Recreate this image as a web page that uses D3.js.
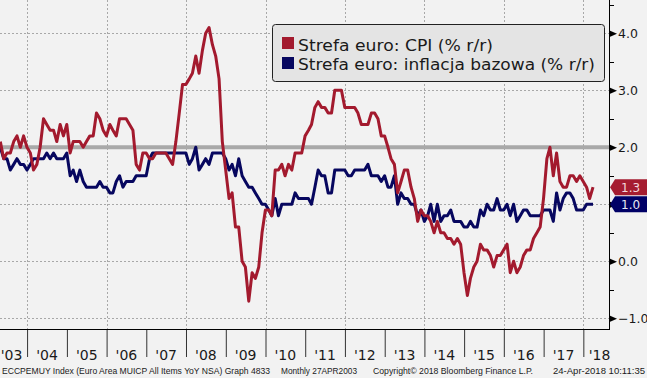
<!DOCTYPE html>
<html><head><meta charset="utf-8">
<script src="https://cdn.jsdelivr.net/npm/d3@7"></script>
<style>html,body{margin:0;padding:0;background:#f2f2f2;}svg{display:block;}</style>
</head><body>
<svg id="c" width="647" height="378"></svg>
<script>
// ---- data (monthly, Apr 2003 .. Mar 2018) ----
const firstMonth = "2003-04";
const cpi = [
  2.1,1.8,1.9,1.9,2.1,2.2,2.0,2.2,2.0,
  1.9,1.6,1.7,2.0,2.5,2.4,2.3,2.3,2.1,2.4,2.2,2.4,
  1.9,2.1,2.1,2.1,2.0,2.1,2.2,2.2,2.6,2.5,2.3,2.2,
  2.4,2.3,2.2,2.5,2.5,2.5,2.4,2.3,1.7,1.6,1.9,1.9,
  1.8,1.8,1.9,1.9,1.9,1.9,1.8,1.7,2.1,2.6,3.1,3.1,
  3.2,3.3,3.6,3.3,3.7,4.0,4.1,3.8,3.6,3.2,2.1,1.6,
  1.1,1.2,0.6,0.6,0.0,-0.1,-0.7,-0.2,-0.3,-0.1,0.5,0.9,
  0.9,0.8,1.6,1.6,1.7,1.5,1.7,1.6,1.9,1.9,1.9,2.2,
  2.3,2.4,2.7,2.8,2.7,2.7,2.6,2.6,3.0,3.0,3.0,2.7,
  2.7,2.7,2.7,2.6,2.4,2.4,2.4,2.6,2.6,2.5,2.2,2.2,
  2.0,1.8,1.7,1.2,1.4,1.6,1.6,1.3,1.1,0.7,0.9,0.8,
  0.8,0.7,0.5,0.7,0.5,0.5,0.4,0.4,0.3,0.4,0.3,-0.2,
  -0.6,-0.3,-0.1,0.0,0.3,0.2,0.2,0.1,-0.1,0.1,0.1,0.2,
  0.3,-0.2,0.0,-0.2,-0.1,0.1,0.2,0.2,0.4,0.5,0.6,1.1,
  1.8,2.0,1.5,1.9,1.4,1.3,1.3,1.5,1.5,1.4,1.5,1.4,
  1.3,1.1,1.3
];
const core = [
  2.0,1.8,1.8,1.6,1.7,1.8,1.7,1.7,1.6,
  1.7,1.8,1.8,1.8,1.8,1.9,1.8,1.9,1.8,1.8,1.8,1.9,
  1.5,1.6,1.4,1.6,1.4,1.3,1.3,1.3,1.3,1.4,1.3,1.3,
  1.2,1.2,1.4,1.5,1.3,1.4,1.4,1.4,1.5,1.5,1.5,1.5,
  1.8,1.9,1.9,1.9,1.9,1.9,1.9,1.9,1.9,1.9,1.9,1.9,
  1.7,1.8,2.0,1.6,1.7,1.8,1.7,1.9,1.9,1.9,1.9,1.8,
  1.6,1.7,1.5,1.8,1.5,1.4,1.3,1.3,1.2,1.1,1.0,1.0,
  0.9,0.8,1.1,0.8,1.0,1.0,1.0,1.0,1.2,1.1,1.1,1.1,
  1.1,1.0,1.3,1.6,1.5,1.5,1.2,1.2,1.6,1.6,1.6,1.6,
  1.5,1.5,1.6,1.6,1.6,1.6,1.7,1.5,1.5,1.5,1.4,1.5,
  1.3,1.3,1.5,1.0,1.2,1.1,1.1,1.0,1.0,0.8,0.9,0.7,
  0.8,1.0,0.7,1.0,0.7,0.8,0.8,0.9,0.7,0.7,0.7,0.6,
  0.6,0.7,0.6,0.6,0.9,0.8,1.0,0.9,0.9,1.1,0.9,0.9,
  1.0,0.8,1.0,0.7,0.8,0.9,0.9,0.8,0.8,0.8,0.8,0.9,
  0.9,0.9,0.7,1.2,0.9,1.1,1.2,1.2,1.1,0.9,0.9,0.9,
  1.0,1.0,1.0
];
const seriesNames = ["Strefa euro: CPI (% r/r)", "Strefa euro: inflacja bazowa (% r/r)"];
const seriesColors = ["#a31a2e", "#07075f"];
const yearLabels = ["'03","'04","'05","'06","'07","'08","'09","'10","'11","'12","'13","'14","'15","'16","'17","'18"];
const yTicks = [-1, 0, 1, 2, 3, 4];
const yMinor = [-0.5, 0.5, 1.5, 2.5, 3.5, 4.5];
const refLine = 2.0;
const footerLeft = "ECCPEMUY Index (Euro Area MUICP All Items YoY NSA) Graph 4833";
const footerMid = "Monthly 27APR2003";
const footerCopy = "Copyright\u00A9 2018 Bloomberg Finance L.P.";
const footerDate = "24-Apr-2018 10:11:35";

// ---- layout ----
const svg = d3.select("#c");
const PL = 0, PR = 609, PT = 0, PB = 329;
const FONT = "'DejaVu Sans', Verdana, sans-serif";
const FONT2 = "'Liberation Sans', Arial, sans-serif";

const parseM = d3.timeParse("%Y-%m");
const start = parseM(firstMonth);
const dates = cpi.map((_, i) => d3.timeDay.offset(d3.timeMonth.offset(start, i + 1), -1));

const x = d3.scaleTime().domain([new Date(2003, 3, 27), new Date(2018, 7, 25)]).range([PL, PR]);
const y = d3.scaleLinear().domain([-1.188, 4.584]).range([PB, PT]);

svg.append("rect").attr("width", 647).attr("height", 378).attr("fill", "#f2f2f2");

svg.append("defs").append("clipPath").attr("id", "clip")
  .append("rect").attr("x", PL).attr("y", PT).attr("width", PR - PL).attr("height", PB - PT);

// gridlines
const grid = svg.append("g").attr("stroke", "#a8a8a8").attr("stroke-width", 1).attr("stroke-dasharray", "2,2");
grid.selectAll("line.h").data(yTicks).join("line")
  .attr("x1", PL).attr("x2", PR).attr("y1", d => Math.round(y(d)) + 0.5).attr("y2", d => Math.round(y(d)) + 0.5);
const gridYears = x.ticks(d3.timeYear.every(2));
grid.selectAll("line.v").data(gridYears).join("line")
  .attr("y1", PT).attr("y2", PB).attr("x1", d => Math.round(x(d)) + 0.5).attr("x2", d => Math.round(x(d)) + 0.5);

// reference line at 2.0
svg.append("line").attr("x1", PL).attr("x2", PR).attr("y1", y(refLine)).attr("y2", y(refLine))
  .attr("stroke", "#a9a9a9").attr("stroke-width", 4);

// series lines
const line = d3.line().x((d, i) => x(dates[i])).y(d => y(d));
const lines = svg.append("g").attr("clip-path", "url(#clip)");
[[core, seriesColors[1]], [cpi, seriesColors[0]]].forEach(([s, col]) => {
  lines.append("path").datum(s).attr("d", line).attr("fill", "none")
    .attr("stroke", col).attr("stroke-width", 3).attr("stroke-linejoin", "round");
});

// bottom axis (ticks at year boundaries)
const xAxis = d3.axisBottom(x).ticks(d3.timeYear.every(1)).tickSize(28).tickSizeOuter(0).tickFormat("");
const gx = svg.append("g").attr("transform", `translate(0,${PB})`).call(xAxis);
gx.select(".domain").attr("stroke", "#000");
gx.selectAll(".tick line").attr("stroke", "#333");

// year labels centered in each year, kept inside plot width
const years = d3.range(2003, 2019);
svg.append("g").selectAll("text").data(years).join("text")
  .attr("x", yr => {
    const a = x(new Date(yr, 0, 1)), b = x(new Date(yr + 1, 0, 1));
    const hw = 9.5;
    return Math.max(PL + 2 + hw, Math.min(PR - hw, (a + b) / 2));
  })
  .attr("y", 360).attr("text-anchor", "middle")
  .attr("font-family", FONT).attr("font-size", 14).attr("fill", "#1a1a1a")
  .text((yr, i) => yearLabels[i]);

// last values (flags cover the axis label at the same level)
const lastVals = [cpi[cpi.length - 1], core[core.length - 1]];

// right axis
const yAxis = d3.axisRight(y).tickValues(yTicks).tickSize(0).tickPadding(9)
  .tickFormat(d => lastVals.some(v => Math.abs(y(v) - y(d)) < 8) ? "" : d3.format(".1f")(d));
const gy = svg.append("g").attr("transform", `translate(${PR},0)`).call(yAxis);
gy.select(".domain").attr("stroke", "#000").attr("d", `M0.5,${PT}V${PB}`);
gy.selectAll(".tick text").attr("font-family", FONT).attr("font-size", 12.5).attr("fill", "#1a1a1a")
  .attr("dy", "0.36em");
gy.selectAll(".tick").append("path").attr("d", "M0,-3.5L8,0L0,3.5Z").attr("fill", "#000");
gy.selectAll("line.minor").data(yMinor).join("line").attr("class", "minor")
  .attr("x1", 0).attr("x2", 5).attr("y1", d => Math.round(y(d)) + 0.5).attr("y2", d => Math.round(y(d)) + 0.5)
  .attr("stroke", "#000");
svg.append("line").attr("x1", PL).attr("x2", PR + 1).attr("y1", PB + 0.5).attr("y2", PB + 0.5).attr("stroke", "#000");

// last value flags
const flagH = 16;
const flags = svg.append("g");
lastVals.forEach((v, k) => {
  let cy = y(v);
  if (k === 1) cy = Math.max(cy, y(lastVals[0]) + flagH);
  const x0 = PR + 1, x1 = PR + 6, x2 = 647;
  flags.append("path")
    .attr("d", `M${x0},${cy}L${x1},${cy - flagH / 2}L${x2},${cy - flagH / 2}L${x2},${cy + flagH / 2}L${x1},${cy + flagH / 2}Z`)
    .attr("fill", k === 0 ? "#a51c30" : "#000066");
  flags.append("text").attr("x", 621).attr("y", cy).attr("dy", "0.36em")
    .attr("font-family", FONT).attr("font-size", 12).attr("fill", k === 0 ? "#f4d6da" : "#e6e6f4")
    .text(d3.format(".1f")(v));
});

// legend
const lg = svg.append("g");
lg.append("rect").attr("x", 272.5).attr("y", 24.5).attr("width", 332).attr("height", 57).attr("rx", 3)
  .attr("fill", "#e4e4e4").attr("stroke", "#222").attr("stroke-width", 1);
const legW = [195, 297];
seriesNames.forEach((n, k) => {
  lg.append("rect").attr("x", 282).attr("y", 37 + k * 20).attr("width", 12).attr("height", 12)
    .attr("fill", seriesColors[k]);
  lg.append("text").attr("x", 298).attr("y", 50.5 + k * 19.5)
    .attr("font-family", FONT).attr("font-size", 16.5).attr("fill", "#1a1a1a")
    .attr("textLength", legW[k]).attr("lengthAdjust", "spacingAndGlyphs").text(n);
});

// footer
const ft = svg.append("g").attr("font-family", FONT2).attr("font-size", 8.6).attr("fill", "#1a1a1a");
[[footerLeft, 2, 268], [footerMid, 281, 76], [footerCopy, 373, 160], [footerDate, 553, 92]].forEach(([t, x0, w]) => {
  ft.append("text").attr("x", x0).attr("y", 374).attr("textLength", w).attr("lengthAdjust", "spacingAndGlyphs").text(t);
});
</script>
</body></html>
